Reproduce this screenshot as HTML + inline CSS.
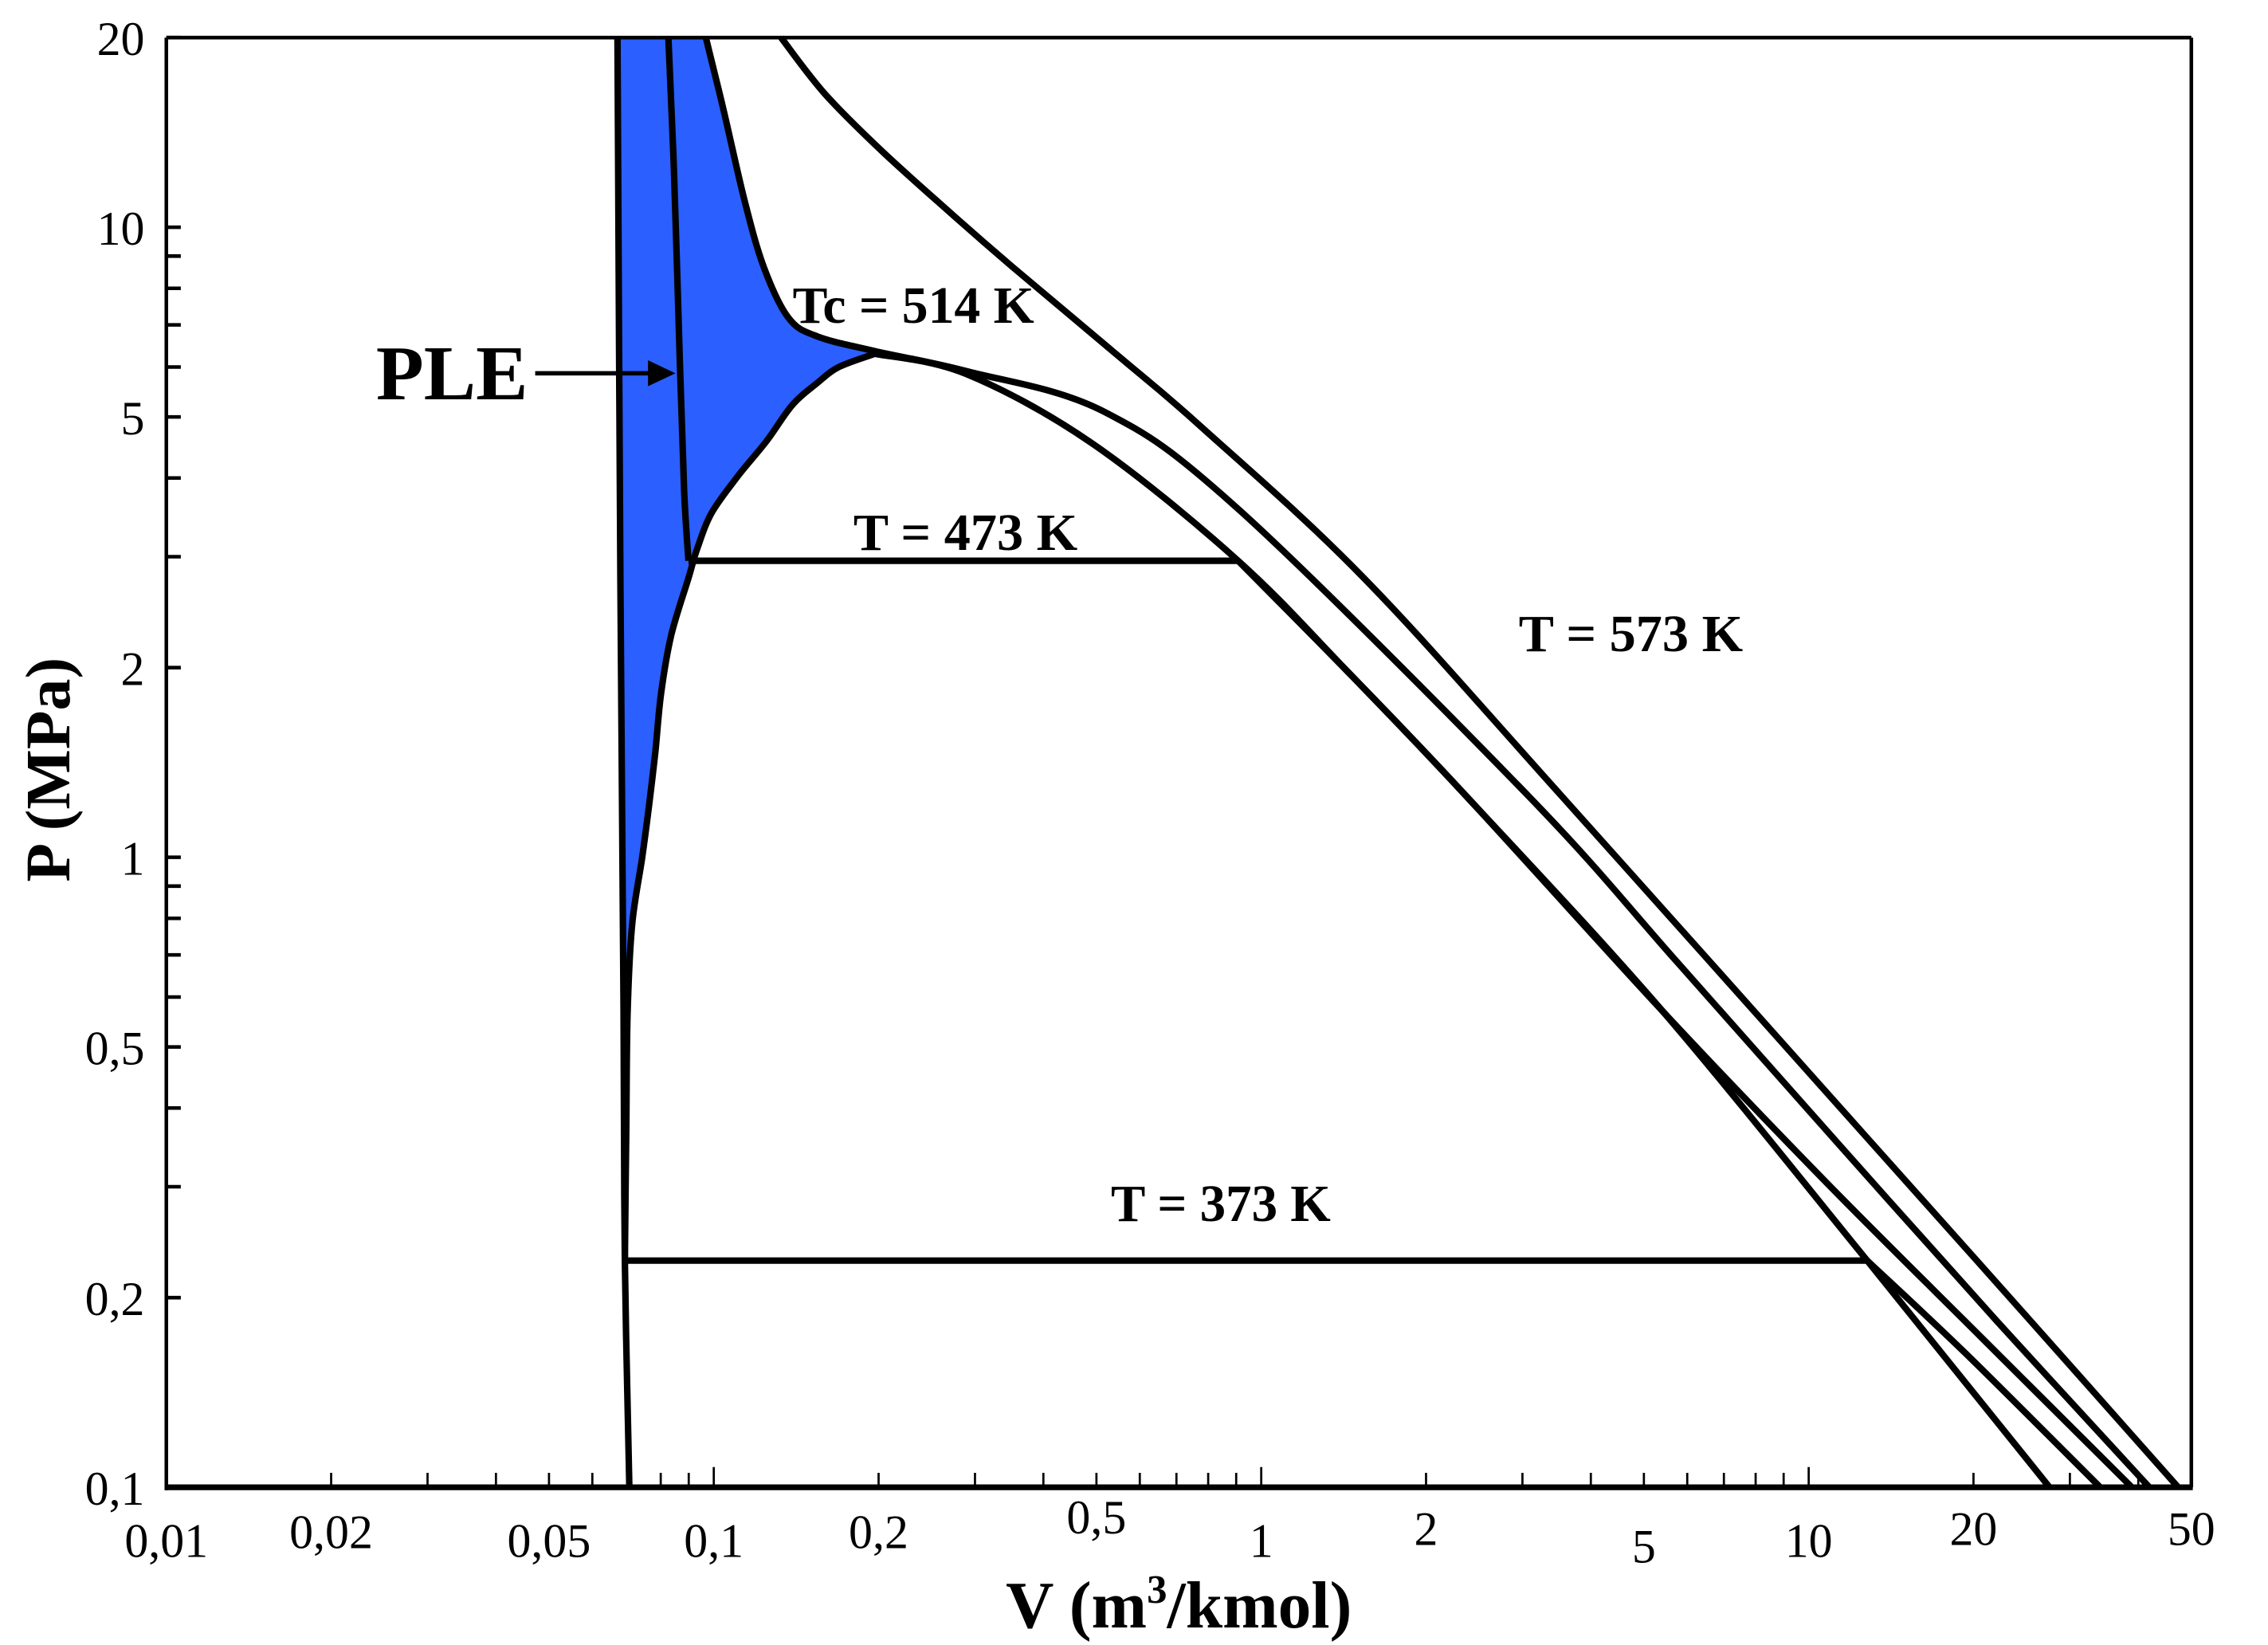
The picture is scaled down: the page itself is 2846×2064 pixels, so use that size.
<!DOCTYPE html>
<html><head><meta charset="utf-8"><style>
html,body{margin:0;padding:0;background:#fff;}
svg{display:block;}
text{font-family:"Liberation Serif",serif;fill:#000;}
</style></head><body>
<svg id="chart" width="2846" height="2064" viewBox="0 0 1568 1137" preserveAspectRatio="none" xmlns="http://www.w3.org/2000/svg">
<g id="fills"></g>
<g id="curves"></g>
<g id="axes"></g>
<g id="labels">
<text x="260" y="276" font-size="54" font-weight="bold" textLength="105" lengthAdjust="spacingAndGlyphs">PLE</text>
<line x1="370" y1="258" x2="450" y2="258" stroke="#000" stroke-width="3"/>
<polygon points="448,249 467,258 448,267" fill="#000"/>
<text x="548" y="223" font-size="36" font-weight="bold" textLength="167" lengthAdjust="spacingAndGlyphs">Tc = 514 K</text>
<text x="590" y="380" font-size="36" font-weight="bold" textLength="155" lengthAdjust="spacingAndGlyphs">T = 473 K</text>
<text x="1050" y="450" font-size="36" font-weight="bold" textLength="155" lengthAdjust="spacingAndGlyphs">T = 573 K</text>
<text x="768" y="844" font-size="36" font-weight="bold" textLength="152" lengthAdjust="spacingAndGlyphs">T = 373 K</text>
<text x="815" y="1125" font-size="46" font-weight="bold" text-anchor="middle">V (m<tspan font-size="28" dy="-17">3</tspan><tspan dy="17">/kmol)</tspan></text>
<text transform="translate(48,532) rotate(-90)" font-size="44" font-weight="bold" text-anchor="middle">P (MPa)</text>
</g>
</svg>
<script>
// axis domain
const xDomain=[0.01,50];
const yDomain=[0.1,20];
// tick labels
const yTickVals=[20,10,5,2,1,0.5,0.2,0.1];
const yTickText=["20","10","5","2","1","0,5","0,2","0,1"];
const xTickVals=[0.01,0.02,0.05,0.1,0.2,0.5,1,2,5,10,20,50];
const xTickText=["0,01","0,02","0,05","0,1","0,2","0,5","1","2","5","10","20","50"];
const xTickDy=[48,42,48,48,42,32,48,40,52,48,40,40];
// curves (V in m3/kmol, P in MPa)
const liqV=[0.0667,0.0675,0.0684,0.0688,0.0701];
const liqP=[20,2.78,0.57,0.229,0.1];
const domeLeftV=[0.0688,0.0692,0.0696,0.0709,0.0740,0.0763,0.0782,0.0801,0.0836,0.0899,0.0932,0.0991,0.1105,0.1249,0.1393,0.1545,0.1692,0.1970];
const domeLeftP=[0.229,0.372,0.568,0.780,1.0,1.223,1.471,1.817,2.25,2.775,3.084,3.52,4.02,4.58,5.23,5.66,6.00,6.30];
const domeRightV=[0.1970,0.2891,0.4908,0.9072,1.467,2.372,5.427,12.79];
const domeRightP=[6.30,5.85,4.54,2.956,1.936,1.249,0.568,0.229];
const tcV=[0.0967,0.1040,0.1140,0.1234,0.1368,0.1545,0.1970,0.2891,0.5152,0.9242,3.082,5.767,11.26,21.99,41.91];
const tcP=[20,15.47,10.97,8.65,7.19,6.71,6.36,5.91,5.10,3.52,1.249,0.680,0.353,0.1842,0.1];
const t573V=[0.1327,0.1593,0.2031,0.2754,0.3513,0.5541,0.7794,1.540,3.544,12.72,24.83,47.32];
const t573P=[20,16.31,13.20,10.40,8.65,6.20,4.81,2.775,1.249,0.3604,0.188,0.1];
const t473LiqV=[0.0826,0.0846,0.0867,0.0883,0.0899];
const t473LiqP=[20,12.2,6.13,3.81,2.956];
const t473VapV=[0.9072,1.467,2.372,5.427,10.60,20.69,38.95];
const t473VapP=[2.956,1.936,1.249,0.568,0.309,0.1728,0.1];
const t373V=[0.0688,12.79,27.54];
const t373P=[0.229,0.229,0.1];
const extraV=[12.79,19.35,34.08];
const extraP=[0.229,0.1631,0.1];

const X0=115,X1=1515,Y0=1028,Y1=26;
function xs(v){return X0+(Math.log10(v)-Math.log10(xDomain[0]))/(Math.log10(xDomain[1])-Math.log10(xDomain[0]))*(X1-X0);}
function ys(p){return Y0-(Math.log10(p)-Math.log10(yDomain[0]))/(Math.log10(yDomain[1])-Math.log10(yDomain[0]))*(Y0-Y1);}
const NS="http://www.w3.org/2000/svg";
function pts(V,P){return V.map((v,i)=>[xs(v),ys(P[i])]);}
function smooth(p){
  let d="M"+p[0][0].toFixed(1)+","+p[0][1].toFixed(1);
  for(let i=0;i<p.length-1;i++){
    const p0=p[Math.max(0,i-1)],p1=p[i],p2=p[i+1],p3=p[Math.min(p.length-1,i+2)];
    const c1=[p1[0]+(p2[0]-p0[0])/6,p1[1]+(p2[1]-p0[1])/6];
    const c2=[p2[0]-(p3[0]-p1[0])/6,p2[1]-(p3[1]-p1[1])/6];
    d+="C"+c1[0].toFixed(1)+","+c1[1].toFixed(1)+" "+c2[0].toFixed(1)+","+c2[1].toFixed(1)+" "+p2[0].toFixed(1)+","+p2[1].toFixed(1);
  }
  return d;
}
function linear(p){return "M"+p.map(q=>q[0].toFixed(1)+","+q[1].toFixed(1)).join("L");}
const curves=document.getElementById("curves");
const fills=document.getElementById("fills");
const axes=document.getElementById("axes");

{
  const a=pts(liqV.slice(0,3),liqP.slice(0,3));
  const b=pts(domeLeftV.slice(2),domeLeftP.slice(2));
  const c=pts(tcV.slice(0,7),tcP.slice(0,7)).reverse();
  const all=a.concat(b).concat(c);
  const el=document.createElementNS(NS,"path");
  el.setAttribute("d",linear(all)+"Z");
  el.setAttribute("fill","#2b5fff");
  
  
  fills.appendChild(el);
}
function drawCurve(V,P,name,sm){
  const el=document.createElementNS(NS,"path");
  el.setAttribute("d",sm?smooth(pts(V,P)):linear(pts(V,P)));
  el.setAttribute("fill","none");
  el.setAttribute("stroke","#000");
  el.setAttribute("stroke-width","4.5");
  el.setAttribute("stroke-linejoin","round");
  
  
  curves.appendChild(el);
}
drawCurve(liqV,liqP,"liquid-branch-line",true);
drawCurve(domeLeftV,domeLeftP,"saturation-dome-liquid",true);
drawCurve(domeRightV,domeRightP,"saturation-dome-vapor",true);
drawCurve(tcV,tcP,"isotherm-tc-514k",true);
drawCurve(t573V,t573P,"isotherm-573k",true);
drawCurve(t473LiqV,t473LiqP,"isotherm-473k-liquid",true);
drawCurve([t473LiqV[4],t473VapV[0]],[t473LiqP[4],t473VapP[0]],"isotherm-473k-plateau",false);
drawCurve(t473VapV,t473VapP,"isotherm-473k-vapor",true);
drawCurve(t373V.slice(0,2),t373P.slice(0,2),"isotherm-373k-plateau",false);
drawCurve(t373V.slice(1),t373P.slice(1),"isotherm-373k-vapor",false);
drawCurve(extraV,extraP,"isotherm-vapor-extra",true);

function line(x1,y1,x2,y2,w,name){
  const l=document.createElementNS(NS,"line");
  l.setAttribute("x1",x1);l.setAttribute("y1",y1);l.setAttribute("x2",x2);l.setAttribute("y2",y2);
  l.setAttribute("stroke","#000");l.setAttribute("stroke-width",w);
  
  
  axes.appendChild(l);
}
line(X0,Y1,X1,Y1,2.5,"frame-top");
line(X1,Y1,X1,Y0,2.5,"frame-right");
line(X0,Y1,X0,Y0+2,2.5,"y-axis-line");
line(X0-1,Y0,X1+1,Y0,4,"x-axis-line");
for(let d=-1;d<=1;d++){for(let m=1;m<=9;m++){const p=m*Math.pow(10,d);if(p<0.1||p>20)continue;line(X0,ys(p),X0+10,ys(p),2.5,"y-tick");}}
for(let d=-2;d<=1;d++){for(let m=1;m<=9;m++){const v=m*Math.pow(10,d);if(v<=0.01||v>=50)continue;line(xs(v),Y0,xs(v),Y0-(m===1?14:10),1.5,"x-tick");}}
yTickVals.forEach((v,i)=>{
  const t=document.createElementNS(NS,"text");
  t.setAttribute("x",100);t.setAttribute("y",ys(v)+12);
  t.setAttribute("text-anchor","end");t.setAttribute("font-size","33");
  t.textContent=yTickText[i];
  
  
  axes.appendChild(t);
});
xTickVals.forEach((v,i)=>{
  const t=document.createElementNS(NS,"text");
  t.setAttribute("x",xs(v));t.setAttribute("y",Y0+xTickDy[i]);
  t.setAttribute("text-anchor","middle");t.setAttribute("font-size","33");
  t.textContent=xTickText[i];
  
  
  axes.appendChild(t);
});
</script>
</body></html>
